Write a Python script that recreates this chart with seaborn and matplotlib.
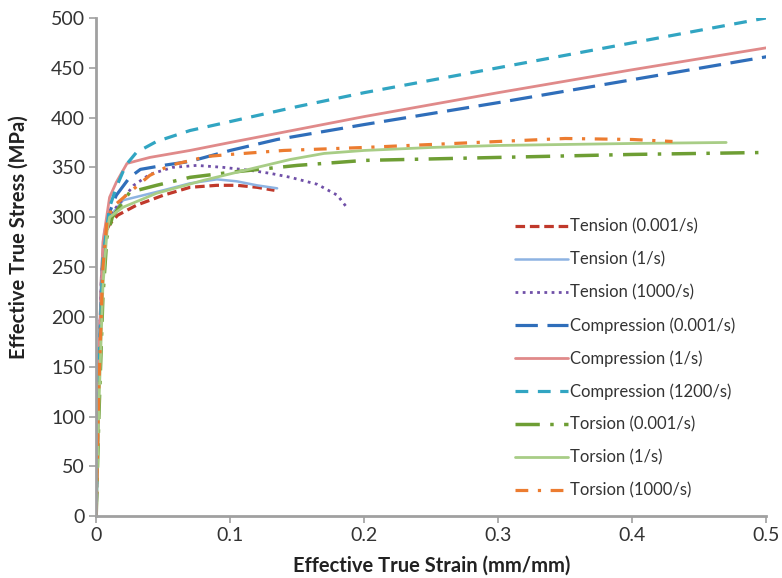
import numpy as np
import pandas as pd
import matplotlib
matplotlib.use("Agg")
import matplotlib.pyplot as plt
import seaborn as sns

labels = ["Tension (0.001/s)", "Tension (1/s)", "Tension (1000/s)",
          "Compression (0.001/s)", "Compression (1/s)", "Compression (1200/s)",
          "Torsion (0.001/s)", "Torsion (1/s)", "Torsion (1000/s)"]

t1_x = [0, 0.002, 0.004, 0.007, 0.01, 0.016, 0.03, 0.05, 0.07, 0.09, 0.105, 0.12, 0.133]
t1_y = [0, 150, 240, 285, 293, 302, 312, 322, 330, 332, 332, 330, 327]
t2_x = [0, 0.002, 0.004, 0.006, 0.008, 0.02, 0.035, 0.05, 0.07, 0.09, 0.105, 0.12, 0.135]
t2_y = [0, 160, 250, 285, 297, 317, 322, 327, 334, 338, 336, 332, 329]
t3_x = [0, 0.002, 0.004, 0.007, 0.012, 0.028, 0.04, 0.057, 0.075, 0.095, 0.115, 0.13, 0.145, 0.165, 0.18, 0.188]
t3_y = [0, 150, 245, 290, 305, 332, 343, 350, 352, 350, 347, 344, 340, 333, 322, 308]
c1_x = [0, 0.002, 0.005, 0.01, 0.015, 0.025, 0.033, 0.05, 0.07, 0.1, 0.135, 0.2, 0.3, 0.4, 0.5]
c1_y = [0, 150, 260, 305, 322, 340, 348, 352, 356, 367, 378, 393, 415, 438, 461]
c2_x = [0, 0.002, 0.005, 0.01, 0.015, 0.023, 0.04, 0.07, 0.1, 0.15, 0.2, 0.3, 0.4, 0.5]
c2_y = [0, 160, 275, 320, 335, 354, 360, 367, 375, 388, 401, 425, 448, 470]
c3_x = [0, 0.002, 0.005, 0.01, 0.015, 0.022, 0.03, 0.045, 0.07, 0.1, 0.15, 0.2, 0.3, 0.4, 0.5]
c3_y = [0, 150, 260, 310, 330, 352, 365, 376, 387, 396, 411, 425, 450, 475, 500]
r1_x = [0, 0.002, 0.005, 0.008, 0.012, 0.025, 0.045, 0.07, 0.1, 0.15, 0.2, 0.3, 0.4, 0.5]
r1_y = [0, 100, 220, 280, 300, 325, 332, 340, 345, 352, 357, 360, 363, 365]
r2_x = [0, 0.002, 0.005, 0.008, 0.01, 0.02, 0.045, 0.08, 0.12, 0.145, 0.17, 0.2, 0.25, 0.3, 0.4, 0.47]
r2_y = [0, 110, 230, 285, 300, 310, 324, 337, 350, 358, 364, 367, 370, 372, 374, 375]
r3_x = [0, 0.002, 0.005, 0.008, 0.012, 0.025, 0.04, 0.055, 0.083, 0.1, 0.14, 0.2, 0.25, 0.3, 0.35, 0.4, 0.43]
r3_y = [0, 130, 250, 295, 310, 325, 342, 352, 361, 363, 367, 370, 373, 376, 379, 378, 376]

xs = [t1_x, t2_x, t3_x, c1_x, c2_x, c3_x, r1_x, r2_x, r3_x]
ys = [t1_y, t2_y, t3_y, c1_y, c2_y, c3_y, r1_y, r2_y, r3_y]

colors = ["#C0392B", "#8DB3E2", "#7050A8", "#2F6EBA", "#E08A8A", "#31A5C2",
          "#6E9E34", "#A8CD86", "#EC7C30"]
styles = [(0, (3, 1.5)), "-", (0, (1, 1.6)), (0, (7, 3)), "-", (0, (4, 3)),
          (0, (7, 3, 1, 3)), "-", (0, (4, 3, 1, 3))]
widths = [2.3, 1.8, 2.0, 2.3, 2.0, 2.3, 2.5, 2.0, 2.3]

sns.set_style("white")
plt.rcParams['font.family'] = ['Lato', 'DejaVu Sans']

fig = plt.figure(figsize=(7.82, 5.78), dpi=100)
ax = fig.add_axes([0.123, 0.107, 0.857, 0.862])

for lab, x, y, c, ls, lw in zip(labels, xs, ys, colors, styles, widths):
    df = pd.DataFrame({"x": x, "y": y})
    sns.lineplot(data=df, x="x", y="y", ax=ax, color=c, linestyle=ls,
                 linewidth=lw, label=lab, sort=False, estimator=None)

ax.set_xlim(0, 0.5)
ax.set_ylim(0, 500)
ax.set_xticks([0, 0.1, 0.2, 0.3, 0.4, 0.5])
ax.set_xticklabels(["0", "0.1", "0.2", "0.3", "0.4", "0.5"])
ax.set_yticks(np.arange(0, 501, 50))
ax.tick_params(axis="both", labelsize=14, colors="#333333", direction="out",
               length=5, width=1.2, color="#A0A0A0", left=True, bottom=True, pad=3)
for s in ["top", "right"]:
    ax.spines[s].set_visible(False)
for s in ["left", "bottom"]:
    ax.spines[s].set_color("#A0A0A0")
    ax.spines[s].set_linewidth(2)

ax.set_xlabel("Effective True Strain (mm/mm)", fontsize=14.5, fontweight="bold", color="#222222")
ax.set_ylabel("Effective True Stress (MPa)", fontsize=14.5, fontweight="bold", color="#222222")
ax.xaxis.set_label_coords(0.5, -0.08)
ax.yaxis.set_label_coords(-0.1, 0.56)

leg = ax.legend(loc="upper left", bbox_to_anchor=(0.625, 0.597), frameon=False,
                fontsize=12, labelspacing=1.0, handlelength=3.2, handletextpad=0.1,
                borderpad=0, borderaxespad=0)
for t in leg.get_texts():
    t.set_color("#333333")

fig.savefig("out.png", dpi=100)
